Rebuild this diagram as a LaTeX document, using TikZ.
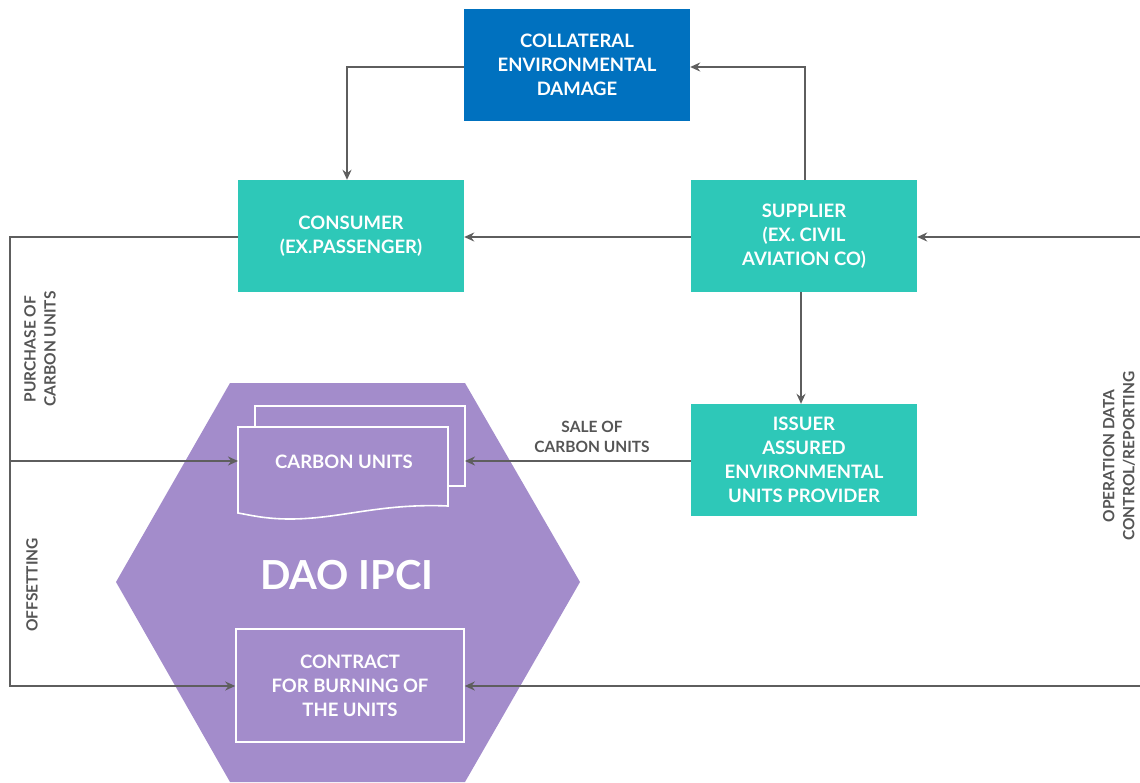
\documentclass[tikz,border=0pt]{standalone}
\usepackage{fontspec}
\setmainfont{Lato}
\usetikzlibrary{arrows.meta}
\definecolor{teal1}{HTML}{2EC8B8}
\definecolor{blue1}{HTML}{0071BF}
\definecolor{purp}{HTML}{A38CCB}
\definecolor{lgray}{HTML}{5E5E5E}
\definecolor{tgray}{HTML}{555555}
\begin{document}
\begin{tikzpicture}[x=1pt,y=-1pt,
  box/.style={minimum width=226pt,minimum height=112pt,inner sep=0pt,text=white,align=center,font=\fontsize{18.5}{24}\selectfont\bfseries},
  wbox/.style={draw=white,line width=1.6pt,fill=purp,inner sep=0pt,text=white,align=center,font=\fontsize{18.5}{24}\selectfont\bfseries},
  conn/.style={draw=lgray,line width=2.4pt,-{Stealth[length=10pt,width=9pt]}},
  lbl/.style={text=tgray,align=center,font=\fontsize{15.5}{20}\selectfont\bfseries}]
\useasboundingbox (0,0) rectangle (1140,782);
% hexagon
\fill[purp] (230,383) -- (465,383) -- (580,582) -- (465,782) -- (230,782) -- (116,582) -- cycle;
\node[box,fill=blue1] (dmg) at (577,65) {COLLATERAL\\ENVIRONMENTAL\\DAMAGE};
\node[box,fill=teal1] (cons) at (351,236) {CONSUMER\\(EX.PASSENGER)};
\node[box,fill=teal1] (sup) at (804,236) {SUPPLIER\\(EX. CIVIL\\AVIATION CO)};
\node[box,fill=teal1] (iss) at (804,460) {ISSUER\\ASSURED\\ENVIRONMENTAL\\UNITS PROVIDER};
% carbon units document
\draw[white,line width=1.6pt,fill=purp] (255,406) rectangle (465,486);
\draw[white,line width=1.6pt,fill=purp] (238,427) -- (448,427) -- (448,506)
  .. controls (380,503) and (340,519) .. (290,519) .. controls (265,519) and (250,515) .. (238,513) -- cycle;
\node[inner sep=0pt,text=white,font=\fontsize{18.5}{24}\selectfont\bfseries] (cu) at (344,462) {CARBON UNITS};
\coordinate (cul) at (238,461);
\coordinate (cur) at (465,461);
\node[text=white,font=\fontsize{40}{44}\selectfont\bfseries] (dao) at (347,575) {DAO IPCI};
\node[wbox,minimum width=228pt,minimum height=113pt] (con) at (350,685.5) {CONTRACT\\FOR BURNING OF\\THE UNITS};
% connectors
\coordinate (a1) at (347,67);
\draw[conn] (dmg.west |- a1) -- (a1) -- (cons.north -| a1);
\coordinate (a2) at (805,67);
\draw[conn] (sup.north -| a2) -- (a2) -- (dmg.east |- a2);
\draw[conn] (sup.west |- 0,237) -- (cons.east |- 0,237);
\draw[conn] (sup.south -| 801,0) -- (iss.north -| 801,0);
\coordinate (r1) at (1140,237);
\draw[conn] (r1) -- (sup.east |- r1);
\coordinate (r2) at (1140,686);
\draw[conn] (r2) -- (con.east |- r2);
\coordinate (l1) at (10,237);
\coordinate (l2) at (10,686);
\coordinate (l3) at (10,461);
\draw[conn] (cons.west |- l1) -- (l1) -- (l2) -- (con.west |- l2);
\draw[conn] (l3) -- (cul);
\draw[conn] (iss.west |- cur) -- (cur);
% labels
\node[lbl] (sale) at (592,437) {SALE OF\\CARBON UNITS};
\node[lbl,rotate=90] (pur) at (40,349) {PURCHASE OF\\CARBON UNITS};
\node[lbl,rotate=90] (off) at (32,585) {OFFSETTING};
\node[lbl,rotate=90] (opd) at (1119,456) {OPERATION DATA\\CONTROL/REPORTING};
\end{tikzpicture}
\end{document}
